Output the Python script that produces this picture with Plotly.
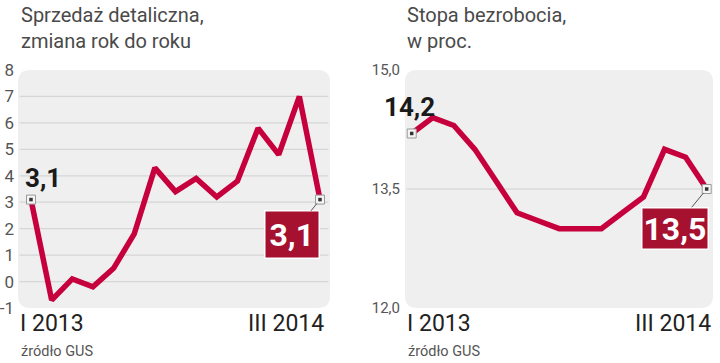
import plotly.graph_objects as go

# ---- data ----
months = list(range(15))  # I 2013 ... III 2014
retail = [3.1, -0.7, 0.1, -0.2, 0.5, 1.8, 4.3, 3.4, 3.9, 3.2, 3.8, 5.8, 4.8, 7.0, 3.1]
unemp = [14.2, 14.4, 14.3, 14.0, 13.6, 13.2, 13.1, 13.0, 13.0, 13.0, 13.2, 13.4, 14.0, 13.9, 13.5]
left_ticks = [-1, 0, 1, 2, 3, 4, 5, 6, 7, 8]
left_ticktext = ["-1", "0", "1", "2", "3", "4", "5", "6", "7", "8"]
right_ticks = [12.0, 13.5, 15.0]
right_ticktext = ["12,0", "13,5", "15,0"]
titles = ["Sprzedaż detaliczna,<br>zmiana rok do roku", "Stopa bezrobocia,<br>w proc."]
x_first, x_last = "I 2013", "III 2014"
source = "źródło GUS"

W, H = 720, 363
LINE = "#c6003d"
BOX = "#a5112e"
FONT = "Roboto"
NARROW = "Roboto"

def px(x):
    return x / W

def py(y):
    return 1 - y / H

# plot boxes in pixels
L = dict(x0=18, x1=330, y0=70, y1=308)
R = dict(x0=405, x1=713, y0=70, y1=308)

fig = go.Figure()

fig.add_trace(go.Scatter(x=months, y=retail, mode="lines", line=dict(color=LINE, width=5.5),
                         xaxis="x", yaxis="y", hoverinfo="skip", showlegend=False))
fig.add_trace(go.Scatter(x=months, y=unemp, mode="lines", line=dict(color=LINE, width=5.5),
                         xaxis="x2", yaxis="y2", hoverinfo="skip", showlegend=False))

# end markers
for xa, ya, data in (("x", "y", retail), ("x2", "y2", unemp)):
    ex = [months[0], months[-1]]
    ey = [data[0], data[-1]]
    fig.add_trace(go.Scatter(x=ex, y=ey, mode="markers", xaxis=xa, yaxis=ya,
                             marker=dict(symbol="square", size=9, color="#f4f4f4",
                                         line=dict(color="#9a9a9a", width=1)),
                             hoverinfo="skip", showlegend=False))
    fig.add_trace(go.Scatter(x=ex, y=ey, mode="markers", xaxis=xa, yaxis=ya,
                             marker=dict(symbol="square", size=3.5, color="#333"),
                             hoverinfo="skip", showlegend=False))

def rounded(b, r=12):
    x0, x1, y0, y1 = px(b["x0"]), px(b["x1"]), py(b["y0"]), py(b["y1"])
    rx, ry = r / W, r / H
    return (f"M {x0+rx},{y0} L {x1-rx},{y0} Q {x1},{y0} {x1},{y0-ry} "
            f"L {x1},{y1+ry} Q {x1},{y1} {x1-rx},{y1} L {x0+rx},{y1} "
            f"Q {x0},{y1} {x0},{y1+ry} L {x0},{y0-ry} Q {x0},{y0} {x0+rx},{y0} Z")

shapes = []
for b in (L, R):
    shapes.append(dict(type="path", path=rounded(b), xref="paper", yref="paper",
                       fillcolor="#efefef", line=dict(width=0), layer="below"))
fig.update_layout(shapes=shapes)

def dom(b):
    return [px(b["x0"]), px(b["x1"])], [py(b["y1"]), py(b["y0"])]

lxd, lyd = dom(L)
rxd, ryd = dom(R)

# x ranges so that first/last points land at the right pixels
def xrange(b, first_px, last_px):
    step = (last_px - first_px) / 14
    return [-(first_px - b["x0"]) / step, 14 + (b["x1"] - last_px) / step]

tickfont = dict(family=FONT, size=17, color="#555")
fig.update_layout(
    width=W, height=H, margin=dict(l=0, r=0, t=0, b=0, autoexpand=False),
    paper_bgcolor="white", plot_bgcolor="rgba(0,0,0,0)",
    xaxis=dict(domain=lxd, range=xrange(L, 31, 320), visible=False, fixedrange=True,
               automargin=False),
    yaxis=dict(domain=lyd, range=[-1, 8], tickvals=left_ticks, ticktext=left_ticktext,
               showgrid=False, zeroline=False, showline=False, ticks="", tickfont=tickfont,
               ticklabelstandoff=3, fixedrange=True, automargin=False),
    xaxis2=dict(domain=rxd, range=xrange(R, 411.7, 706.7), visible=False, fixedrange=True,
                automargin=False),
    yaxis2=dict(domain=ryd, range=[12, 15], tickvals=right_ticks, ticktext=right_ticktext,
                anchor="x2", showgrid=False, zeroline=False, showline=False, ticks="",
                tickfont=dict(family=FONT, size=15, color="#555"),
                ticklabelstandoff=4, fixedrange=True, automargin=False),
)

# grid lines
for v in left_ticks[1:-1]:
    fig.add_shape(type="line", xref="x domain", yref="y", x0=0.005, x1=0.995, y0=v, y1=v,
                  line=dict(color="#d6d6d6", width=1.2), layer="below")
fig.add_shape(type="line", xref="x2 domain", yref="y2", x0=0.005, x1=0.995, y0=13.5, y1=13.5,
              line=dict(color="#cfcfcf", width=1.2), layer="below")

ann = []
# titles
ann.append(dict(text=titles[0], xref="paper", yref="paper", x=px(19), y=py(1), xanchor="left",
                yanchor="top", align="left", showarrow=False,
                font=dict(family=FONT, size=20, color="#4a4a4a")))
ann.append(dict(text=titles[1], xref="paper", yref="paper", x=px(405), y=py(1), xanchor="left",
                yanchor="top", align="left", showarrow=False,
                font=dict(family=FONT, size=20, color="#4a4a4a")))

# x end labels
for lx, rx in ((18, 326), (405, 713)):
    ann.append(dict(text=x_first, xref="paper", yref="paper", x=px(lx), y=py(323), xanchor="left",
                    yanchor="middle", showarrow=False,
                    font=dict(family=NARROW, size=23, color="#222")))
    ann.append(dict(text=x_last, xref="paper", yref="paper", x=px(rx), y=py(323), xanchor="right",
                    yanchor="middle", showarrow=False,
                    font=dict(family=NARROW, size=23, color="#222")))
    ann.append(dict(text=source, xref="paper", yref="paper", x=px(lx + 1), y=py(351), xanchor="left",
                    yanchor="middle", showarrow=False,
                    font=dict(family=FONT, size=14.5, color="#555")))

def fmt(v):
    return f"{v:.1f}".replace(".", ",")

# first value labels (bold black)
ann.append(dict(text=f"<b>{fmt(retail[0])}</b>", x=months[0], y=retail[0], xref="x", yref="y",
                showarrow=False, xshift=12, yshift=22,
                font=dict(family=NARROW, size=26, color="#1a1a1a")))
ann.append(dict(text=f"<b>{fmt(unemp[0])}</b>", x=months[0], y=unemp[0], xref="x2", yref="y2",
                showarrow=False, xshift=-2, yshift=26,
                font=dict(family=NARROW, size=26, color="#1a1a1a")))

# last value labels (red box)
for xa, ya, data, axo, ayo, pad in (("x", "y", retail, -28, 35, 4), ("x2", "y2", unemp, -32, 39, 1)):
    ann.append(dict(text=f"<b>{fmt(data[-1])}</b>", x=months[-1], y=data[-1], xref=xa, yref=ya,
                    showarrow=True, ax=axo, ay=ayo, arrowhead=0, arrowwidth=1, arrowcolor="#555",
                    standoff=5, bgcolor=BOX, bordercolor="white", borderwidth=1.5, borderpad=pad,
                    font=dict(family=NARROW, size=32, color="white")))

fig.update_layout(annotations=ann)

fig.write_html("out.html", config={"displayModeBar": False},
               post_script="document.body.style.margin='0';document.body.style.overflow='hidden';")
